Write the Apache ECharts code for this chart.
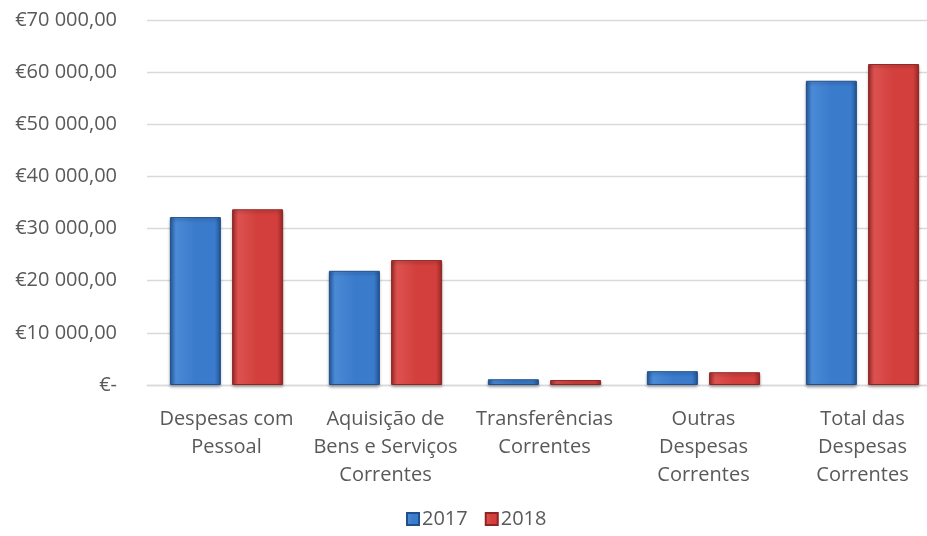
<!DOCTYPE html>
<html>
<head>
<meta charset="utf-8">
<script src="https://cdn.jsdelivr.net/npm/echarts@6/dist/echarts.min.js"></script>
<style>
  html, body { margin: 0; padding: 0; background: #fff; }
  #chart { width: 927px; height: 536px; }
</style>
</head>
<body>
<div id="chart"></div>
<script>
const categories = [
  "Despesas com\nPessoal",
  "Aquisição de\nBens e Serviços\nCorrentes",
  "Transferências\nCorrentes",
  "Outras\nDespesas\nCorrentes",
  "Total das\nDespesas\nCorrentes"
];
const values2017 = [32200, 21900, 1100, 2650, 58350];
const values2018 = [33700, 23950, 950, 2450, 61550];
const seriesNames = ["2017", "2018"];

// gradiente horizontal para dar o efeito de relevo
function barColor(edge, mid, light) {
  return new echarts.graphic.LinearGradient(0, 0, 1, 0, [
    { offset: 0, color: edge },
    { offset: 0.12, color: light },
    { offset: 0.5, color: mid },
    { offset: 0.88, color: mid },
    { offset: 1, color: edge }
  ]);
}

function euro(v) {
  if (v === 0) return "€-";
  return "€" + String(v).replace(/\B(?=(\d{3})+(?!\d))/g, " ") + ",00";
}

const myChart = echarts.init(document.getElementById("chart"));
myChart.setOption({
  animation: false,
  textStyle: { fontFamily: "Open Sans" },
  // a área do gráfico passa um pouco da margem direita, como no original
  grid: { left: 147, width: 795, top: 20, bottom: 151, outerBoundsMode: "none", containLabel: false },
  legend: {
    bottom: 2,
    left: 401,
    icon: "rect",
    itemWidth: 12,
    itemHeight: 12,
    itemGap: 17,
    textStyle: { fontSize: 20, color: "#595959", padding: [0, 0, 0, -2] },
    data: seriesNames
  },
  xAxis: {
    type: "category",
    data: categories,
    axisLine: { lineStyle: { color: "#d9d9d9", width: 1.3 } },
    axisTick: { show: false },
    axisLabel: {
      color: "#595959",
      fontSize: 20,
      lineHeight: 28,
      margin: 20,
      interval: 0
    }
  },
  yAxis: {
    type: "value",
    min: 0,
    max: 70000,
    interval: 10000,
    axisLine: { show: false },
    axisTick: { show: false },
    splitLine: { lineStyle: { color: "#d9d9d9", width: 1.3 } },
    axisLabel: {
      color: "#595959",
      fontSize: 20,
      margin: 30,
      formatter: euro
    }
  },
  series: [
    {
      name: seriesNames[0],
      type: "bar",
      data: values2017,
      barWidth: 51,
      barGap: "22%",
      itemStyle: {
        color: barColor("#24589a", "#3a7bcb", "#4a8ad6"),
        borderColor: "#1f4f8c",
        borderWidth: 1,
        shadowColor: "rgba(0,0,0,0.3)",
        shadowBlur: 3,
        shadowOffsetY: 2
      }
    },
    {
      name: seriesNames[1],
      type: "bar",
      data: values2018,
      barWidth: 51,
      itemStyle: {
        color: barColor("#9c2a28", "#d23f3c", "#dc5250"),
        borderColor: "#8e2523",
        borderWidth: 1,
        shadowColor: "rgba(0,0,0,0.3)",
        shadowBlur: 3,
        shadowOffsetY: 2
      }
    }
  ]
});
</script>
</body>
</html>
